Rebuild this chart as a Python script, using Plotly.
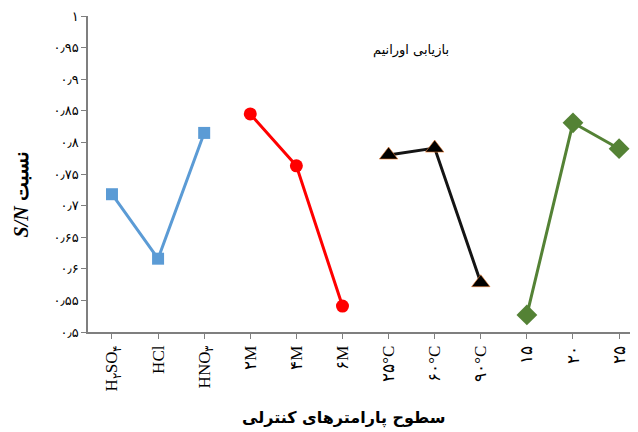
import plotly.graph_objects as go

categories = ["H<sub>۲</sub>SO<sub>۴</sub>", "HCl", "HNO<sub>۳</sub>",
              "۲M", "۴M", "۶M",
              "۲۵°C", "۶۰°C", "۹۰°C",
              "۱۵", "۲۰", "۲۵"]

acid_values = [0.718, 0.616, 0.815]
conc_values = [0.845, 0.763, 0.541]
temp_values = [0.780, 0.791, 0.578]
time_values = [0.527, 0.831, 0.790]

y_tick_values = [0.5, 0.55, 0.6, 0.65, 0.7, 0.75, 0.8, 0.85, 0.9, 0.95, 1.0]
y_tick_labels = ["۰٫۵", "۰٫۵۵", "۰٫۶", "۰٫۶۵", "۰٫۷", "۰٫۷۵", "۰٫۸", "۰٫۸۵", "۰٫۹", "۰٫۹۵", "۱"]

title_text = "بازیابی اورانیم"
x_title = "سطوح پارامترهای کنترلی"
y_title = "<i>S/N</i> نسبت"

fig = go.Figure()

groups = [
    (acid_values, 0, dict(color="#5B9BD5", width=3), dict(symbol="square", size=12, color="#5B9BD5")),
    (conc_values, 3, dict(color="#FF0000", width=3), dict(symbol="circle", size=13, color="#FF0000")),
    (temp_values, 6, dict(color="#141414", width=3), dict(symbol="triangle-up", size=16, color="#000000",
                                                         line=dict(color="#ED7D31", width=0.6))),
    (time_values, 9, dict(color="#548235", width=3), dict(symbol="diamond", size=16, color="#548235")),
]

for vals, start, line, marker in groups:
    fig.add_trace(go.Scatter(
        x=list(range(start, start + len(vals))),
        y=vals,
        mode="lines+markers",
        line=line,
        marker=marker,
        showlegend=False,
        cliponaxis=False,
    ))

fig.add_annotation(
    x=0.593, y=0.892, xref="paper", yref="paper",
    xanchor="center", yanchor="middle",
    text=title_text, showarrow=False,
    font=dict(family="DejaVu Sans", size=13, color="#000"),
)

fig.add_annotation(
    x=0.47, y=-0.272, xref="paper", yref="paper",
    xanchor="center", yanchor="middle",
    text="<b>" + x_title + "</b>", showarrow=False,
    font=dict(family="DejaVu Sans", size=16, color="#000"),
)

fig.add_annotation(
    x=-0.124, y=0.434, xref="paper", yref="paper",
    xanchor="center", yanchor="middle", textangle=-90,
    text="<b>" + y_title + "</b>", showarrow=False, borderpad=0,
    font=dict(family="Liberation Serif", size=20, color="#000"),
)

fig.update_layout(
    width=630, height=424,
    margin=dict(l=80, r=6, t=8, b=100),
    paper_bgcolor="white", plot_bgcolor="white",
    xaxis=dict(
        range=[-0.52, 11.28],
        automargin=False,
        tickmode="array",
        tickvals=list(range(len(categories))),
        ticktext=categories,
        tickangle=-90,
        ticks="outside", ticklen=5, tickcolor="#7f7f7f",
        showline=True, linecolor="#7f7f7f", linewidth=1.5,
        showgrid=False, zeroline=False,
        tickfont=dict(family="Liberation Serif", size=17, color="#000"),
    ),
    yaxis=dict(
        range=[0.5, 1.0],
        automargin=False,
        tickmode="array",
        tickvals=y_tick_values,
        ticktext=y_tick_labels,
        ticks="outside", ticklen=5, tickcolor="#7f7f7f",
        showline=True, linecolor="#7f7f7f", linewidth=1.5,
        showgrid=False, zeroline=False,
        tickfont=dict(family="DejaVu Sans", size=13, color="#000"),
    ),
)

fig.write_html("out.html")
